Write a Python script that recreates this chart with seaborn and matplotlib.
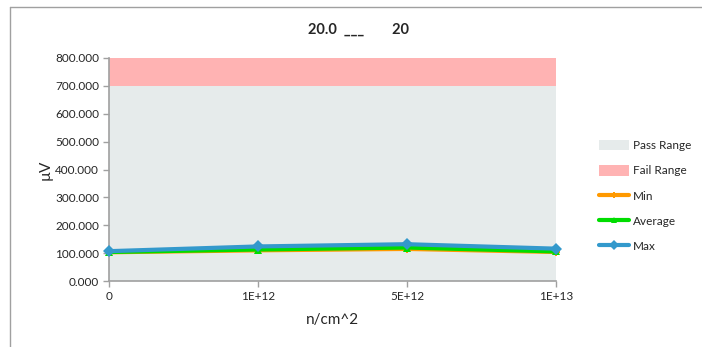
import matplotlib
matplotlib.use("Agg")
import matplotlib.pyplot as plt
import seaborn as sns
import pandas as pd
from matplotlib.patches import Patch
from matplotlib.lines import Line2D
from matplotlib.ticker import FormatStrFormatter

sns.set_style("white")
plt.rcParams['font.family'] = ['Lato', 'DejaVu Sans']

categories = ["0", "1E+12", "5E+12", "1E+13"]
min_vals = [103, 110, 115, 104]
avg_vals = [104, 113, 120, 106]
max_vals = [107, 124, 132, 116]
pass_range = (0, 700)
fail_range = (700, 800)

rows = []
for name, vals in [("Min", min_vals), ("Average", avg_vals), ("Max", max_vals)]:
    for i, v in enumerate(vals):
        rows.append({"x": i, "val": v, "series": name})
df = pd.DataFrame(rows)

colors = {"Min": "#FF9900", "Average": "#00DD00", "Max": "#3399CC"}
markers = {"Min": "P", "Average": "^", "Max": "D"}

fig = plt.figure(figsize=(7.02, 3.47), dpi=100)
ax = fig.add_axes([109/702, (347-281)/347, (556-109)/702, (281-58)/347])

ax.axhspan(*pass_range, color="#E6EBEB", lw=0, zorder=0)
ax.axhspan(*fail_range, color="#FFB3B3", lw=0, zorder=0)

for name in ["Min", "Average", "Max"]:
    sub = df[df.series == name]
    sns.lineplot(data=sub, x="x", y="val", ax=ax, color=colors[name],
                 marker=markers[name], markersize=6, markeredgewidth=0,
                 linewidth=3, zorder=3, legend=False, clip_on=False)

ax.set_xlim(0, len(categories) - 1)
ax.set_ylim(0, 800)
ax.set_xticks(range(len(categories)))
ax.set_xticklabels(categories)
ax.set_yticks(range(0, 801, 100))
ax.yaxis.set_major_formatter(FormatStrFormatter("%.3f"))
ax.tick_params(axis="both", labelsize=8.5, length=4, width=1, color="#A0A0A0",
               direction="out", left=True, bottom=True, pad=3)
for s in ["top", "right"]:
    ax.spines[s].set_visible(False)
for s in ["left", "bottom"]:
    ax.spines[s].set_color("#A0A0A0")
    ax.spines[s].set_linewidth(1.2)
ax.set_xlabel("n/cm^2", fontsize=11, labelpad=8)
ax.set_ylabel("µV", fontsize=11, labelpad=2)
ax.grid(False)

fig.text(358/702, 1 - 30/347, "20.0  ___        20", ha="center", va="center",
         fontsize=10.5, fontweight="bold")

handles = [
    Patch(facecolor="#E6EBEB", edgecolor="none", label="Pass Range"),
    Patch(facecolor="#FFB3B3", edgecolor="none", label="Fail Range"),
    Line2D([], [], color=colors["Min"], marker=markers["Min"], lw=3, ms=5, mew=0, label="Min"),
    Line2D([], [], color=colors["Average"], marker=markers["Average"], lw=3, ms=5, mew=0, label="Average"),
    Line2D([], [], color=colors["Max"], marker=markers["Max"], lw=3, ms=5, mew=0, label="Max"),
]
fig.legend(handles=handles, loc="upper left", bbox_to_anchor=(594/702, 1 - 135/347),
           frameon=False, fontsize=8.5, handlelength=2.6, handleheight=1.0,
           labelspacing=1.18, handletextpad=0.3, borderaxespad=0)

fig.add_artist(Line2D([10/702, 10/702], [0, 1 - 7/347], transform=fig.transFigure,
                      color="#A0A0A0", lw=1))
fig.add_artist(Line2D([10/702, 1], [1 - 7/347, 1 - 7/347], transform=fig.transFigure,
                      color="#A0A0A0", lw=1))

fig.savefig("out.png", dpi=100)
